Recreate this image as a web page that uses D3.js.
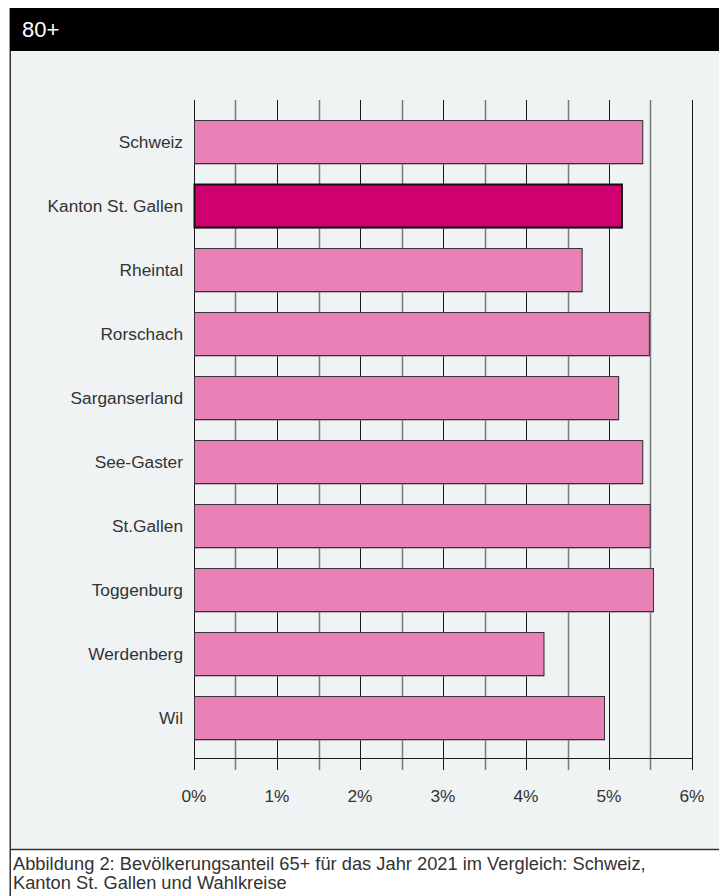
<!DOCTYPE html>
<meta charset="utf-8">
<style>
body { margin: 0; background: #fff; }
text { font-family: "Liberation Sans", Arial, sans-serif; }
</style>
<svg width="719" height="896"></svg>
<script src="https://d3js.org/d3.v7.min.js"></script>
<script>

var categories = ["Schweiz", "Kanton St. Gallen", "Rheintal", "Rorschach", "Sarganserland",
                  "See-Gaster", "St.Gallen", "Toggenburg", "Werdenberg", "Wil"];
var values = [5.40, 5.15, 4.67, 5.48, 5.11, 5.40, 5.49, 5.53, 4.21, 4.94];
var highlight = ["Kanton St. Gallen"];
var tickValues = [0, 1, 2, 3, 4, 5, 6];
var gridValues = [0, 0.5, 1, 1.5, 2, 2.5, 3, 3.5, 4, 4.5, 5, 5.5, 6];
var title = "80+";
var caption = ["Abbildung 2: Bevölkerungsanteil 65+ für das Jahr 2021 im Vergleich: Schweiz,",
               "Kanton St. Gallen und Wahlkreise"];

var svg = d3.select("svg"),
    width = +svg.attr("width"),
    height = +svg.attr("height");

// panel background
svg.append("rect")
   .attr("x", 10).attr("y", 8)
   .attr("width", width - 10).attr("height", height - 8)
   .attr("fill", "#eff3f4");

// caption box
svg.append("rect")
   .attr("x", 10).attr("y", 849)
   .attr("width", width - 10).attr("height", height - 849)
   .attr("fill", "#ffffff");

svg.append("line")
   .attr("x1", 10).attr("x2", width)
   .attr("y1", 849.5).attr("y2", 849.5)
   .attr("stroke", "#333").attr("stroke-width", 1.5);

svg.append("line")
   .attr("x1", 10.25).attr("x2", 10.25)
   .attr("y1", 8).attr("y2", height)
   .attr("stroke", "#333").attr("stroke-width", 1.5);

// header
svg.append("rect")
   .attr("x", 10).attr("y", 8)
   .attr("width", width - 10).attr("height", 43)
   .attr("fill", "#000");

svg.append("text")
   .attr("x", 22).attr("y", 37)
   .attr("font-size", "22px")
   .attr("fill", "#fff")
   .text(title);

var x = d3.scaleLinear()
          .domain([0, 6])
          .range([194, 692]);

var y = d3.scaleBand()
          .domain(categories)
          .range([100, 760])
          .paddingInner(0.3125)
          .paddingOuter(0.3125);

// grid lines
svg.append("g")
   .selectAll("line")
   .data(gridValues)
   .enter()
   .append("line")
   .attr("x1", function(d) { return Math.round(x(d)) + 0.5; })
   .attr("x2", function(d) { return Math.round(x(d)) + 0.5; })
   .attr("y1", 100)
   .attr("y2", 770)
   .attr("stroke", function(d) { return d % 1 == 0 ? "#1a1a1a" : "#7a7a7a"; })
   .attr("stroke-width", function(d) { return d % 1 == 0 ? 1 : 1.5; });

// axis baseline
svg.append("line")
   .attr("x1", x(0)).attr("x2", x(6) + 0.5)
   .attr("y1", 758.5).attr("y2", 758.5)
   .attr("stroke", "#1a1a1a");

// bars
var bars = svg.append("g")
              .selectAll("g")
              .data(categories)
              .enter()
              .append("g");

bars.append("rect")
    .attr("x", x(0) + 1)
    .attr("y", function(d) { return y(d) + 1; })
    .attr("width", function(d, i) { return x(values[i]) - x(0); })
    .attr("height", y.bandwidth())
    .attr("fill", "#8a8a8a")
    .attr("opacity", 0.6);

bars.append("rect")
    .attr("x", x(0) + 0.5)
    .attr("y", function(d) { return y(d) + 0.5; })
    .attr("width", function(d, i) { return x(values[i]) - x(0); })
    .attr("height", y.bandwidth() - 1)
    .attr("fill", function(d) { return highlight.indexOf(d) >= 0 ? "#d10070" : "#e882b6"; })
    .attr("stroke", function(d) { return highlight.indexOf(d) >= 0 ? "#111" : "#333"; })
    .attr("stroke-width", function(d) { return highlight.indexOf(d) >= 0 ? 2 : 1; });

// category labels
svg.append("g")
   .selectAll("text")
   .data(categories)
   .enter()
   .append("text")
   .attr("x", 183)
   .attr("y", function(d) { return y(d) + y.bandwidth() / 2; })
   .attr("dy", "0.35em")
   .attr("text-anchor", "end")
   .attr("font-size", "17.3px")
   .attr("fill", "#333")
   .text(function(d) { return d; });

// tick labels
svg.append("g")
   .selectAll("text")
   .data(tickValues)
   .enter()
   .append("text")
   .attr("x", function(d) { return x(d); })
   .attr("y", 796)
   .attr("dy", "0.35em")
   .attr("text-anchor", "middle")
   .attr("font-size", "17.3px")
   .attr("fill", "#333")
   .text(function(d) { return d + "%"; });

// caption
svg.append("g")
   .selectAll("text")
   .data(caption)
   .enter()
   .append("text")
   .attr("x", 13)
   .attr("y", function(d, i) { return 870 + i * 19; })
   .attr("font-size", "18.3px")
   .attr("fill", "#333")
   .text(function(d) { return d; });

</script>
